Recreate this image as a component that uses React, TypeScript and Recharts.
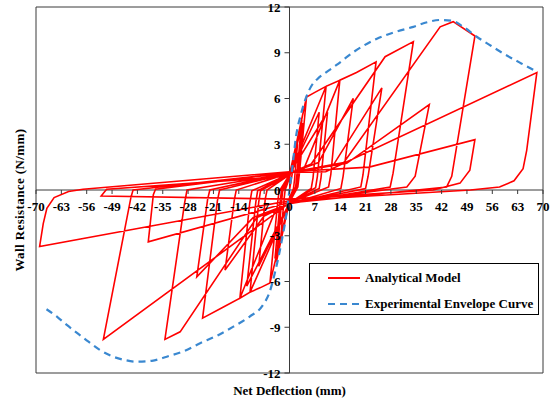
import {
  LineChart,
  Line,
  XAxis,
  YAxis,
  ReferenceLine,
  ReferenceArea,
  Legend,
} from "recharts";

type Pt = [number, number];

// analytical model hysteresis path, one list per amplitude group (deflection mm, resistance N/mm)
const initCycles: Pt[] = [
  [0, 0], [1.2, 1.7], [2.2, 3.0], [1.4, 0.7], [1.1, 0.1], [0, -0.5],
  [-2.4, -3.1], [-1.5, -0.6], [-1.2, 0], [0, 0.8],
  [3.4, 4.6], [2.0, 0.9], [1.7, 0.2], [0, -0.7],
  [-3.6, -4.7], [-2.2, -0.8], [-1.9, -0.1], [0, 0.9],
  [4.7, 6.1], [2.7, 1.0], [2.3, 0.2], [0, -0.8],
  [-5.4, -6.1], [-3.3, -0.9], [-2.9, -0.1], [0, 1.0],
  [3.6, 4.4], [2.2, 0.8], [1.9, 0.1], [0, -0.8],
  [-4.0, -4.5], [-2.6, -0.8], [-2.2, 0], [0, 1.0],
];

const cycle10: Pt[] = [
  [4.7, 6.1], [7.0, 6.4], [10.1, 6.8], [7.7, 0.9], [7.2, 0.15], [0, -0.8],
  [-5.4, -6.1], [-8.0, -6.4], [-10.9, -6.7], [-8.5, -0.8], [-8.0, -0.05], [0, 1.0],
  [8.2, 5.1], [6.5, 0.8], [6.0, 0.1], [0, -0.85],
  [-8.5, -5.0], [-6.7, -0.6], [-6.2, 0], [0, 1.0],
];

const cycle14: Pt[] = [
  [10.1, 6.8], [13.9, 7.2], [11.4, 1.0], [10.8, 0.2], [0, -0.85],
  [-10.9, -6.7], [-13.7, -7.1], [-11.0, -0.9], [-10.4, -0.05], [0, 1.05],
  [10.5, 5.1], [8.7, 0.8], [8.2, 0.1], [0, -0.85],
  [-11.8, -6.3], [-9.3, -0.8], [-8.8, -0.05], [0, 1.05],
];

const cycle24: Pt[] = [
  [4, 1.4], [13.9, 7.2], [18.5, 7.7], [23.9, 8.4], [20.3, 1.0], [19.7, 0.2], [0, -0.9],
  [-4, -1.4], [-13.7, -7.1], [-18.5, -7.7], [-24, -8.4], [-19.9, -0.7], [-19.3, 0], [0, 1.1],
  [8, 1.8], [17.6, 6.0], [14.8, 0.9], [14.2, 0.1], [0, -0.9],
  [-7, -1.7], [-17.8, -5.25], [-15.2, -0.6], [-14.7, 0], [0, 1.1],
];

const cycle34: Pt[] = [
  [6, 1.7], [26.4, 8.74], [34.2, 9.73], [28.6, 1.1], [27.8, 0.2], [0, -0.9],
  [-9, -1.8], [-30.2, -9.3], [-34.4, -9.8], [-29.0, -0.9], [-28.3, 0], [0, 1.1],
  [12, 1.6], [25.5, 6.7], [21.7, 0.9], [21.0, 0.1], [0, -0.9],
  [-10, -1.8], [-25.6, -5.7], [-22.6, -0.6], [-22.0, 0], [0, 1.15],
];

const cycle51: Pt[] = [
  [15, 1.8], [41.6, 10.7], [45.2, 11.04], [51.2, 10.1], [44.8, 0.9], [43.4, 0.2], [0, -0.85],
  [-51.4, -9.8], [-43.8, -0.5], [-43.2, 0], [0, 1.15],
  [15.8, 1.75], [38.6, 5.6], [34.7, 0.9], [32.4, 0.2], [0, -0.8],
  [-39, -3.4], [-37.6, -0.3], [-37.0, 0.05], [0, 1.15],
];

const cycle68: Pt[] = [
  [10, 1.2], [68.3, 7.7], [65.5, 2.6], [64.5, 1.4], [62, 0.6], [58, 0.2], [50, 0], [0, -0.7],
  [-69, -3.7], [-68, -2.2], [-67, -1.2], [-65, -0.5], [-61, -0.1], [-57, 0.05], [0, 1.2],
  [22, 1.5], [51.2, 3.3], [49.8, 1.3], [47.1, 0.45], [39.7, 0], [0, -0.6],
  [-52, -0.4], [-50.5, 0.05], [0, 0.9],
];

// experimental envelope
const envelope: Pt[] = [
  [-67.1, -7.82], [-64, -8.35], [-61.5, -8.85], [-58.5, -9.4], [-55.5, -9.95], [-52.3, -10.5],
  [-49, -10.9], [-45.5, -11.15], [-42.2, -11.26], [-38, -11.2], [-33.9, -10.93], [-29, -10.55],
  [-24.7, -10.05], [-20, -9.55], [-15.5, -8.96], [-11, -8.3], [-7.5, -7.6], [-5.5, -6.7],
  [-4, -5.4], [-2.2, -3.4], [-0.8, -1.5], [0, 0], [0.7, 1.3], [1.8, 3.5], [3.2, 5.0],
  [4.8, 6.2], [6.0, 6.8], [7.8, 7.3], [10, 7.7], [13, 8.2], [18, 9.1], [24, 9.9],
  [29, 10.35], [34.2, 10.7], [38, 11.0], [41.6, 11.15], [44.8, 11.1], [48, 10.7],
  [51.7, 10.05], [55, 9.55], [59, 8.96], [64, 8.3], [68.3, 7.76],
];

const xTicks = [-70, -63, -56, -49, -42, -35, -28, -21, -14, -7, 0, 7, 14, 21, 28, 35, 42, 49, 56, 63, 70];
const yTicks = [-12, -9, -6, -3, 0, 3, 6, 9, 12];

const RED = "#ff0000";
const BLUE = "#3a88d0";
const AXIS = "#3a3a3a";
const FONT = "'Liberation Serif', 'Times New Roman', serif";

const W = 551;
const H = 402;
const M = { top: 7, right: 8, bottom: 0, left: 0 };
const Y_AXIS_W = 36;
const X_AXIS_H = 29;
const PLOT_W = W - M.left - M.right - Y_AXIS_W;
const PLOT_H = H - M.top - M.bottom - X_AXIS_H;
// axes cross at zero, which sits in the middle of the symmetric domains
const ZERO_X = M.left + Y_AXIS_W + PLOT_W / 2;
const ZERO_Y = M.top + PLOT_H / 2;

const toRows = (pts: Pt[]) => pts.map(([x, y]) => ({ x, y }));
const modelData = toRows([
  ...initCycles, ...cycle10, ...cycle14, ...cycle24, ...cycle34, ...cycle51, ...cycle68,
]);
const envelopeData = toRows(envelope);

const tickText = { fontFamily: FONT, fontWeight: "bold" as const, fontSize: 13, fill: "#000" };

const XTick = ({ x, payload }: any) => (
  <g>
    <line x1={x} y1={ZERO_Y} x2={x} y2={ZERO_Y + 4} stroke={AXIS} />
    <text x={x} y={ZERO_Y + 21} textAnchor="middle" style={tickText}>{payload.value}</text>
  </g>
);

const YTick = ({ y, payload }: any) => (
  <g>
    <line x1={ZERO_X - 5} y1={y} x2={ZERO_X} y2={y} stroke={AXIS} />
    <text x={ZERO_X - 9} y={y + 4.5} textAnchor="end" style={tickText}>{payload.value}</text>
  </g>
);

const XTitle = () => (
  <text x={ZERO_X} y={395} textAnchor="middle" style={tickText}>Net Deflection (mm)</text>
);

const YTitle = () => (
  <text
    x={24}
    y={200}
    textAnchor="middle"
    transform="rotate(-90, 24, 200)"
    style={{ ...tickText, letterSpacing: 0.4 }}
  >
    Wall Resistance (N/mm)
  </text>
);

const legendItems = [
  { name: "Analytical Model", color: RED, dash: undefined as string | undefined, width: 2 },
  { name: "Experimental Envelope Curve", color: BLUE, dash: "7 5", width: 2.2 },
];

const LegendBox = () => (
  <div
    style={{
      width: 230,
      height: 52,
      boxSizing: "border-box",
      border: "1px solid #000",
      background: "#fff",
      position: "relative",
    }}
  >
    {legendItems.map((item, i) => (
      <div
        key={item.name}
        style={{ position: "absolute", left: 18, top: 5 + i * 26, height: 18, display: "flex", alignItems: "center" }}
      >
        <svg width={32} height={18} style={{ display: "block" }}>
          <line x1={0} y1={9} x2={32} y2={9} stroke={item.color} strokeWidth={item.width} strokeDasharray={item.dash} />
        </svg>
        <span style={{ ...tickText, marginLeft: 5, whiteSpace: "nowrap", lineHeight: "18px" }}>{item.name}</span>
      </div>
    ))}
  </div>
);

export default function App() {
  return (
    <div style={{ position: "absolute", left: 0, top: 0, width: W, height: H, background: "#fff" }}>
      <LineChart width={W} height={H} margin={M}>
        <XAxis
          dataKey="x"
          type="number"
          domain={[-70, 70]}
          ticks={xTicks}
          interval={0}
          height={X_AXIS_H}
          axisLine={false}
          tickLine={false}
          tick={<XTick />}
          label={<XTitle />}
          allowDataOverflow
        />
        <YAxis
          type="number"
          domain={[-12, 12]}
          ticks={yTicks}
          interval={0}
          width={Y_AXIS_W}
          axisLine={false}
          tickLine={false}
          tick={<YTick />}
          label={<YTitle />}
          allowDataOverflow
        />
        <ReferenceArea x1={-70} x2={70} y1={-12} y2={12} fill="none" stroke={AXIS} strokeWidth={1} />
        <ReferenceLine x={0} stroke={AXIS} strokeWidth={1} />
        <ReferenceLine y={0} stroke={AXIS} strokeWidth={1} />
        <Line
          data={modelData}
          dataKey="y"
          type="linear"
          stroke={RED}
          strokeWidth={1.6}
          dot={false}
          activeDot={false}
          isAnimationActive={false}
        />
        <Line
          data={envelopeData}
          dataKey="y"
          type="monotone"
          stroke={BLUE}
          strokeWidth={2.2}
          strokeDasharray="7 5"
          dot={false}
          activeDot={false}
          isAnimationActive={false}
        />
        <Legend
          layout="horizontal"
          verticalAlign="middle"
          align="center"
          wrapperStyle={{ left: 309, top: 263, width: 230, height: 52 }}
          content={<LegendBox />}
        />
      </LineChart>
    </div>
  );
}
